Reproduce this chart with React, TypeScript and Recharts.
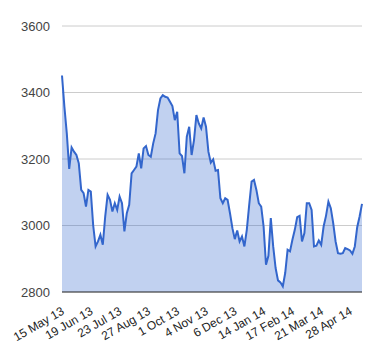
import React from "react";
import { AreaChart, Area, XAxis, YAxis, CartesianGrid, ReferenceLine } from "recharts";

// one point every two trading days, May 2013 to May 2014
const values = [
  3451, 3357, 3277, 3170, 3235, 3222, 3212, 3187, 3107, 3097,
  3057, 3107, 3102, 3000, 2937, 2952, 2972, 2942, 3027, 3092,
  3077, 3042, 3067, 3047, 3087, 3067, 2982, 3037, 3062, 3157,
  3167, 3177, 3217, 3172, 3232, 3239, 3212, 3207, 3247, 3277,
  3347, 3382, 3392, 3387, 3385, 3372, 3359, 3317, 3342, 3217,
  3209, 3157, 3267, 3297, 3212, 3257, 3332, 3307, 3292, 3325,
  3297, 3222, 3189, 3199, 3165, 3167, 3082, 3067, 3082, 3077,
  3037, 2992, 2959, 2985, 2952, 2967, 2937, 2987, 3062, 3132,
  3137, 3107, 3067, 3057, 2997, 2882, 2909, 3022, 2937, 2872,
  2835, 2829, 2817, 2857, 2927, 2922, 2957, 2987, 3025, 3029,
  2952, 2977, 3067, 3067, 3047, 2937, 2939, 2955, 2942, 2997,
  3029, 3072, 3052, 3007, 2952, 2917, 2915, 2917, 2932, 2929,
  2925, 2915, 2937, 2995, 3027, 3065,
];

const tickLabels = [
  "15 May 13", "19 Jun 13", "23 Jul 13", "27 Aug 13", "1 Oct 13", "4 Nov 13",
  "6 Dec 13", "14 Jan 14", "17 Feb 14", "21 Mar 14", "28 Apr 14",
];
const tickStep = 12;
const yTicks = [2800, 3000, 3200, 3400, 3600];

const data = values.map((v, i) => ({ i, v }));
const xTicks = tickLabels.map((_, k) => k * tickStep);

const font = "Arial, 'Liberation Sans', sans-serif";

function XTick(props: any) {
  const { x, y, payload } = props;
  const label = tickLabels[payload.value / tickStep];
  const tx = x + 1;
  const ty = y + 10;
  return (
    <text
      x={tx}
      y={ty}
      transform={`rotate(-30, ${tx}, ${ty})`}
      textAnchor="end"
      dominantBaseline="central"
      fontSize={12}
      fontFamily={font}
      fill="#222"
    >
      {label}
    </text>
  );
}

export default function App() {
  return (
    <div style={{ position: "absolute", left: 0, top: 0, width: 380, height: 360, background: "#fff" }}>
      <AreaChart width={380} height={360} data={data} margin={{ top: 26, right: 18, left: 0, bottom: 38 }}>
        <CartesianGrid vertical={false} stroke="#ccc" />
        <XAxis
          dataKey="i"
          type="number"
          domain={[0, values.length - 1]}
          ticks={xTicks}
          interval={0}
          tick={<XTick />}
          tickLine={false}
          axisLine={false}
        />
        <YAxis
          domain={[2800, 3600]}
          ticks={yTicks}
          width={62}
          tickLine={false}
          axisLine={false}
          tickMargin={6}
          tick={{ fontSize: 13, fontFamily: font, fill: "#444" }}
        />
        <Area
          type="linear"
          dataKey="v"
          stroke="#3366cc"
          strokeWidth={2}
          fill="#3366cc"
          fillOpacity={0.3}
          baseValue={2800}
          dot={false}
          activeDot={false}
          isAnimationActive={false}
        />
        <ReferenceLine y={2800} stroke="#333" strokeWidth={1} />
      </AreaChart>
    </div>
  );
}
